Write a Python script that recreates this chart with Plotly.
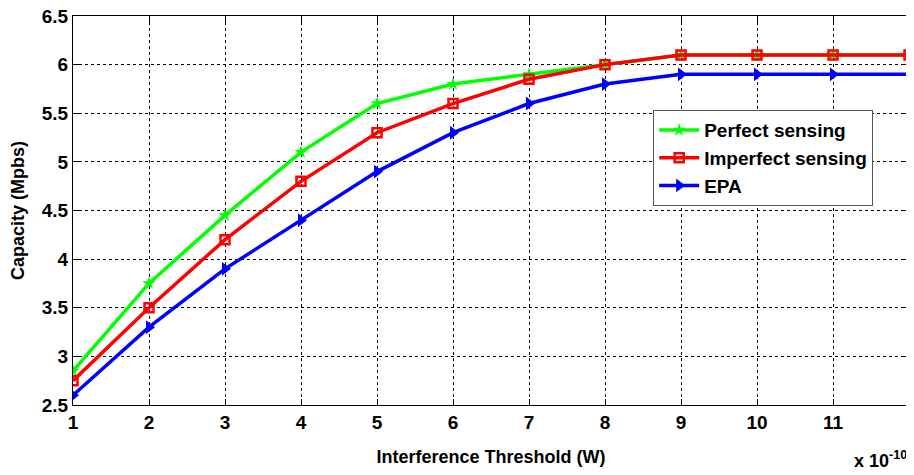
import plotly.graph_objects as go

x_vals = [1, 2, 3, 4, 5, 6, 7, 8, 9, 10, 11, 12]
perfect = [2.85, 3.75, 4.45, 5.1, 5.6, 5.8, 5.9, 6.0, 6.1, 6.1, 6.1, 6.1]
imperfect = [2.75, 3.5, 4.2, 4.8, 5.3, 5.6, 5.85, 6.0, 6.1, 6.1, 6.1, 6.1]
epa = [2.6, 3.3, 3.9, 4.4, 4.9, 5.3, 5.6, 5.8, 5.9, 5.9, 5.9, 5.9]
x_ticks = [1, 2, 3, 4, 5, 6, 7, 8, 9, 10, 11]
y_ticks = [2.5, 3, 3.5, 4, 4.5, 5, 5.5, 6, 6.5]

FONT = "Liberation Sans, Arial, sans-serif"

fig = go.Figure()
fig.add_trace(go.Scatter(x=x_vals, y=perfect, mode="lines+markers", name="Perfect sensing",
                         line=dict(color="#00ff00", width=3.5), cliponaxis=True,
                         marker=dict(symbol="star", size=10, color="#00ff00")))
fig.add_trace(go.Scatter(x=x_vals, y=imperfect, mode="lines+markers", name="Imperfect sensing",
                         line=dict(color="#ff0000", width=3.5), cliponaxis=True,
                         marker=dict(symbol="square-open", size=9, color="#ff0000", line=dict(width=2.5))))
fig.add_trace(go.Scatter(x=x_vals, y=epa, mode="lines+markers", name="EPA",
                         line=dict(color="#0000ff", width=3.5), cliponaxis=True,
                         marker=dict(symbol="triangle-right", size=12, color="#0000ff")))

axis_common = dict(showline=True, linecolor="black", linewidth=1, mirror="ticks",
                   ticks="inside", ticklen=6, tickcolor="black",
                   showgrid=True, gridcolor="black", griddash="dot", gridwidth=1,
                   zeroline=False, automargin=False, ticklabeloverflow="allow",
                   tickfont=dict(family=FONT, size=19, color="black", weight="bold"))

fig.update_xaxes(range=[1, 12], tickvals=x_ticks,
                 title=dict(text="Interference Threshold (W)", standoff=18,
                            font=dict(family=FONT, size=18, color="black", weight="bold")),
                 **axis_common)
fig.update_yaxes(range=[2.5, 6.5], tickvals=y_ticks,
                 ticktext=[("%g" % v) for v in y_ticks],
                 title=dict(text="Capacity (Mpbs)", standoff=14,
                            font=dict(family=FONT, size=18, color="black", weight="bold")),
                 **axis_common)

fig.add_annotation(text="x 10<sup>-10</sup>", xref="paper", yref="paper", x=1.0, y=-0.105,
                   xanchor="right", yanchor="top", showarrow=False,
                   font=dict(family=FONT, size=18, color="black", weight="bold"))

# The page body has an 8px default margin, so the figure is sized to fit inside it.
fig.update_layout(
    width=906, height=467,
    margin=dict(l=65, r=5, t=8, b=70, autoexpand=False),
    plot_bgcolor="white", paper_bgcolor="white",
    legend=dict(x=0.694, y=0.758, xanchor="left", yanchor="top",
                bgcolor="white", bordercolor="#555555", borderwidth=1,
                font=dict(family=FONT, size=19, color="black", weight="bold"),
                tracegroupgap=0, itemwidth=40),
    showlegend=True,
)

fig.write_html("out.html")
